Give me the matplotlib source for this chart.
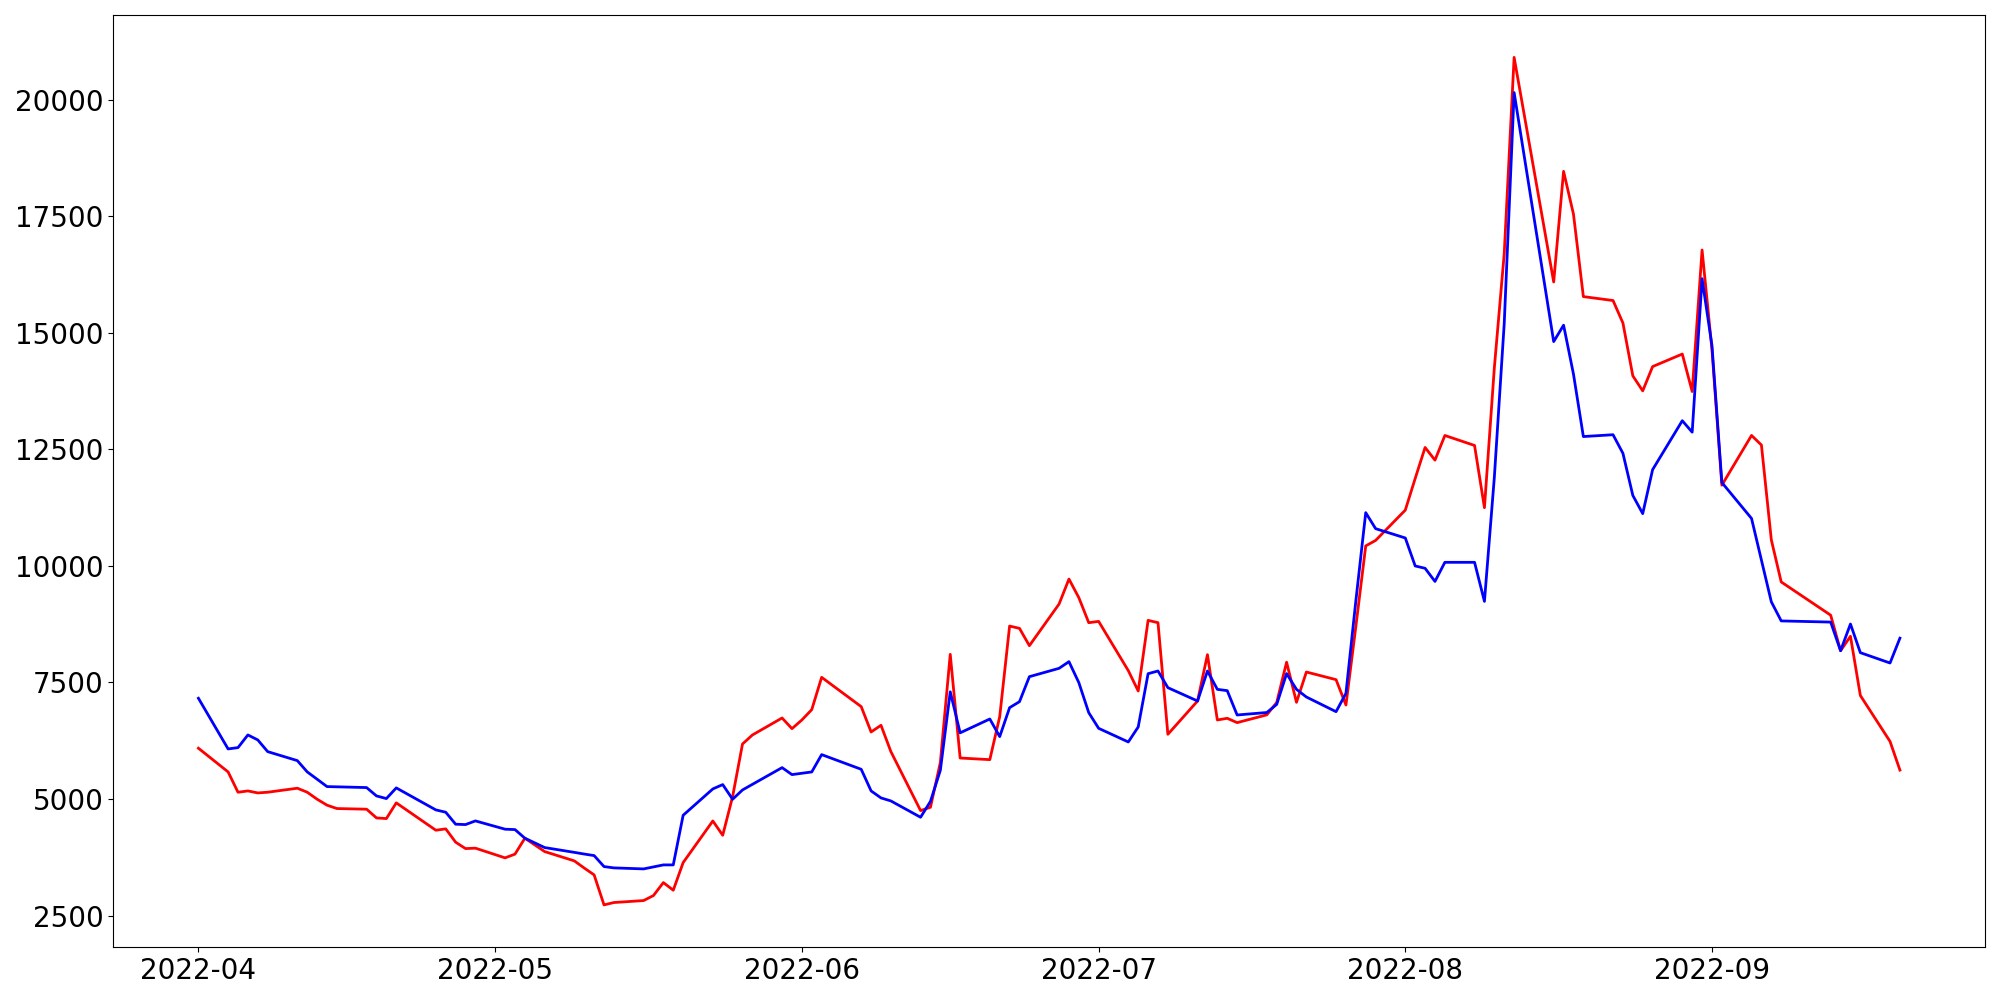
import matplotlib
matplotlib.use('Agg')
import matplotlib.pyplot as plt
import pandas as pd

# dates (trading days)
dates = ['2022-04-01', '2022-04-04', '2022-04-05', '2022-04-06', '2022-04-07', '2022-04-08',
         '2022-04-11', '2022-04-12', '2022-04-13', '2022-04-14', '2022-04-15',
         '2022-04-18', '2022-04-19', '2022-04-20', '2022-04-21',
         '2022-04-25', '2022-04-26', '2022-04-27', '2022-04-28', '2022-04-29',
         '2022-05-02', '2022-05-03', '2022-05-04', '2022-05-06',
         '2022-05-09', '2022-05-10', '2022-05-11', '2022-05-12', '2022-05-13',
         '2022-05-16', '2022-05-17', '2022-05-18', '2022-05-19', '2022-05-20',
         '2022-05-23', '2022-05-24', '2022-05-25', '2022-05-26', '2022-05-27',
         '2022-05-30', '2022-05-31', '2022-06-01', '2022-06-02', '2022-06-03',
         '2022-06-07', '2022-06-08', '2022-06-09', '2022-06-10',
         '2022-06-13', '2022-06-14', '2022-06-15', '2022-06-16', '2022-06-17',
         '2022-06-20', '2022-06-21', '2022-06-22', '2022-06-23', '2022-06-24',
         '2022-06-27', '2022-06-28', '2022-06-29', '2022-06-30', '2022-07-01',
         '2022-07-04', '2022-07-05', '2022-07-06', '2022-07-07', '2022-07-08',
         '2022-07-11', '2022-07-12', '2022-07-13', '2022-07-14', '2022-07-15',
         '2022-07-18', '2022-07-19', '2022-07-20', '2022-07-21', '2022-07-22',
         '2022-07-25', '2022-07-26', '2022-07-27', '2022-07-28', '2022-07-29',
         '2022-08-01', '2022-08-02', '2022-08-03', '2022-08-04', '2022-08-05',
         '2022-08-08', '2022-08-09', '2022-08-10', '2022-08-11', '2022-08-12',
         '2022-08-16', '2022-08-17', '2022-08-18', '2022-08-19',
         '2022-08-22', '2022-08-23', '2022-08-24', '2022-08-25', '2022-08-26',
         '2022-08-29', '2022-08-30', '2022-08-31', '2022-09-01', '2022-09-02',
         '2022-09-05', '2022-09-06', '2022-09-07', '2022-09-08',
         '2022-09-13', '2022-09-14', '2022-09-15', '2022-09-16',
         '2022-09-19', '2022-09-20']

red_vals = [6090, 5582, 5146, 5174, 5131, 5146,
            5232, 5146, 4996, 4868, 4796,
            4782, 4595, 4581, 4918,
            4331, 4360, 4074, 3937, 3946,
            3738, 3818, 4160, 3873,
            3673, 3520, 3373, 2729, 2780,
            2822, 2930, 3208, 3044, 3637,
            4530, 4223, 5052, 6181, 6374,
            6739, 6510, 6696, 6918, 7611,
            6982, 6439, 6582, 6017,
            4752, 4824, 5785, 8104, 5880,
            5845, 6767, 8711, 8661, 8290,
            9183, 9719, 9319, 8783, 8811,
            7754, 7318, 8833, 8783, 6389,
            7103, 8097, 6696, 6732, 6639,
            6806, 7070, 7935, 7075, 7725,
            7561, 7017, 8700, 10430, 10548,
            11198, 11877, 12542, 12270, 12799,
            12585, 11250, 14250, 16700, 20910,
            16092, 18465, 17547, 15778,
            15694, 15211, 14078, 13756, 14277,
            14546, 13742, 16778, 14640, 11733,
            12800, 12594, 10560, 9657,
            8944, 8181, 8492, 7221,
            6236, 5621]

blue_vals = [7162, 6075, 6103, 6375, 6268, 6017,
             5824, 5582, 5425, 5267, 5262,
             5246, 5067, 5010, 5239,
             4767, 4717, 4460, 4452, 4531,
             4353, 4345, 4160, 3959,
             3856, 3820, 3787, 3551, 3523,
             3501, 3544, 3587, 3587, 4652,
             5217, 5310, 4995, 5195, 5315,
             5674, 5524, 5553, 5581, 5953,
             5638, 5174, 5024, 4959,
             4609, 4950, 5617, 7300, 6420,
             6717, 6339, 6960, 7089, 7625,
             7804, 7947, 7496, 6853, 6517,
             6224, 6546, 7689, 7747, 7389,
             7103, 7747, 7353, 7325, 6803,
             6856, 7030, 7690, 7353, 7189,
             6874, 7268, 9250, 11143, 10800,
             10600, 10000, 9950, 9668, 10078,
             10078, 9240, 11900, 15200, 20155,
             14813, 15165, 14116, 12776,
             12815, 12416, 11513, 11122, 12066,
             13116, 12870, 16163, 14727, 11790,
             11019, 10125, 9231, 8821,
             8796, 8181, 8755, 8140,
             7918, 8451]

x = pd.to_datetime(dates)

fig, ax = plt.subplots(figsize=(20, 10), dpi=100)
ax.plot(x, red_vals, color='red', linewidth=2)
ax.plot(x, blue_vals, color='blue', linewidth=2)
ax.tick_params(labelsize=20)

plt.tight_layout()
plt.savefig('out.png')
